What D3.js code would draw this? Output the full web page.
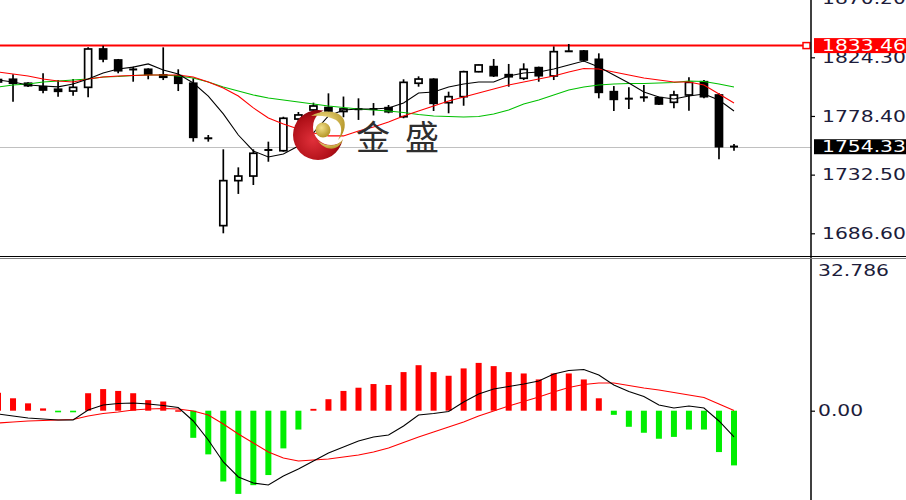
<!DOCTYPE html>
<html><head><meta charset="utf-8">
<script src="https://cdn.jsdelivr.net/npm/d3@7/dist/d3.min.js"></script>
<style>html,body{margin:0;padding:0;background:#fff;overflow:hidden}svg{display:block}</style>
</head><body><div id="chart"></div>
<script>
// ---- data ----
const openP  = [1805.0,1807.1,1804.0,1801.3,1799.3,1797.9,1800.8,1830.8,1822.2,1815.2,1814.9,1810.5,1809.9,1804.0,1761.2,1692.6,1727.8,1731.4,1751.4,1751.2,1776.0,1783.1,1785.0,1781.9,1783.5,1783.6,1784.9,1777.8,1804.0,1807.1,1788.8,1793.5,1813.0,1817.0,1810.7,1807.9,1816.2,1809.7,1828.8,1829.2,1822.7,1797.4,1792.2,1793.2,1792.7,1789.1,1794.8,1805.2,1794.8,1754.6];
const highP  = [1808.9,1811.0,1804.7,1811.8,1806.5,1807.3,1832.1,1833.4,1823.0,1817.0,1815.7,1832.1,1814.9,1807.9,1763.5,1752.3,1738.2,1752.3,1758.3,1777.8,1781.5,1788.8,1796.1,1793.6,1792.2,1788.5,1787.0,1807.1,1809.4,1807.9,1797.4,1813.8,1818.7,1823.0,1819.1,1819.6,1817.0,1832.8,1834.7,1830.0,1827.4,1801.8,1800.8,1802.6,1793.5,1798.2,1808.7,1806.5,1796.1,1756.5];
const lowP   = [1802.6,1789.6,1801.1,1796.1,1793.5,1794.3,1793.0,1820.4,1811.8,1805.2,1807.1,1806.5,1797.9,1758.3,1758.3,1686.6,1717.4,1724.4,1742.6,1750.4,1773.7,1780.7,1780.5,1777.4,1775.3,1778.8,1780.5,1776.6,1801.3,1782.3,1780.5,1786.4,1812.6,1808.9,1801.3,1806.5,1805.2,1806.5,1828.5,1820.9,1792.2,1782.3,1783.9,1789.6,1787.0,1784.4,1782.5,1792.2,1744.5,1751.2];
const closeP = [1806.9,1804.0,1802.1,1798.7,1797.7,1800.8,1830.8,1823.0,1813.8,1814.4,1811.0,1808.7,1804.0,1761.7,1760.7,1727.8,1731.4,1749.2,1752.2,1776.6,1779.2,1786.2,1782.3,1783.9,1783.9,1784.0,1781.7,1804.7,1807.3,1788.3,1793.5,1813.0,1818.3,1809.9,1809.1,1814.9,1809.9,1828.7,1829.2,1822.2,1796.9,1791.4,1791.7,1792.8,1787.8,1794.8,1804.7,1793.5,1754.4,1754.33];
const maFast = [1806.5,1805.0,1802.6,1801.9,1801.2,1803.4,1807.3,1812.0,1815.1,1816.6,1819.1,1814.4,1811.2,1804.2,1794.0,1780.0,1763.5,1751.0,1746.3,1748.7,1754.9,1765.1,1778.4,1783.1,1783.9,1783.9,1784.6,1788.5,1796.4,1797.1,1801.0,1803.4,1805.0,1805.0,1809.7,1812.0,1812.8,1815.1,1818.3,1821.4,1816.7,1810.5,1804.2,1797.2,1793.2,1791.7,1794.0,1795.6,1790.9,1782.3];
const maMid  = [1812.8,1811.2,1809.7,1807.3,1805.8,1805.0,1807.3,1808.9,1809.7,1810.1,1810.5,1810.5,1810.5,1808.9,1805.0,1800.3,1794.0,1784.7,1776.8,1772.1,1768.2,1765.1,1762.8,1762.8,1766.7,1769.8,1773.7,1778.4,1782.3,1786.2,1790.1,1793.3,1796.4,1799.5,1802.6,1805.0,1807.3,1809.7,1812.8,1815.5,1815.2,1812.8,1810.5,1808.1,1806.5,1805.0,1805.0,1802.6,1795.6,1788.6];
const maSlow = [1801.1,1802.6,1803.4,1805.0,1805.8,1806.5,1807.3,1808.9,1809.3,1810.1,1810.5,1810.5,1809.7,1808.1,1805.0,1801.1,1797.9,1794.8,1792.5,1790.9,1789.3,1787.8,1786.2,1785.0,1783.9,1783.1,1782.3,1781.1,1779.6,1778.4,1778.0,1777.6,1778.0,1780.0,1783.1,1787.8,1790.9,1794.8,1798.7,1801.1,1802.6,1803.4,1803.8,1803.8,1804.2,1804.6,1805.8,1805.4,1803.4,1801.1];
const macdHist = [3.9,2.7,1.6,0.5,-0.35,-0.35,3.8,4.7,4.3,3.8,2.3,2.0,0.1,-5.9,-9.5,-15.4,-18.1,-16.2,-14.0,-8.2,-4.1,0.4,2.5,4.3,5.0,5.8,5.6,8.4,9.9,8.4,7.6,9.2,10.4,9.7,8.4,8.1,6.8,8.1,8.1,6.8,2.7,-0.9,-3.5,-4.8,-6.1,-5.7,-4.1,-4.1,-9.0,-11.9];
const macdLine = [-0.72,-1.15,-1.59,-1.81,-2.02,-2.02,0.15,1.24,1.57,1.68,1.46,1.13,0.70,-2.24,-6.37,-11.16,-14.42,-15.73,-16.16,-14.2,-12.68,-10.94,-9.2,-7.9,-6.59,-5.72,-5.29,-3.33,-0.94,-0.61,-0.17,1.89,3.63,4.72,5.26,5.81,6.46,7.98,8.74,8.96,7.77,5.59,4.18,3.09,1.24,0.59,1.02,0.59,-2.24,-5.72];
const signalLine = [-2.68,-2.46,-2.24,-2.13,-2.02,-1.91,-1.15,-0.61,-0.28,0.15,0.37,0.48,0.37,-0.07,-0.94,-2.89,-5.07,-7.03,-8.98,-10.29,-10.94,-10.72,-10.51,-10.07,-9.64,-8.98,-8.11,-6.92,-5.72,-4.63,-3.55,-2.46,-1.15,-0.07,1.02,2.0,2.98,4.07,5.05,5.7,6.03,6.03,5.48,4.94,4.5,3.96,3.42,2.89,1.46,0.04];
const priceTicks = [1870.20,1824.30,1778.40,1732.50,1686.60];
const macdTicks = [32.786,0];
const levelPrice = 1833.46;
const lastPrice = 1754.33;
const brandText = "金盛";

// ---- layout ----
const W = 906, H = 500, plotR = 811;
const mainTop = 0, mainBot = 256, subTop = 259, subBot = 500;
const svg = d3.select("#chart").append("svg").attr("width", W).attr("height", H)
  .style("font-family", "'DejaVu Sans', Verdana, sans-serif");
svg.append("rect").attr("width", W).attr("height", H).attr("fill", "#fff");

const idx = d3.range(openP.length);
const x = d3.scaleLinear().domain([0, idx.length - 1]).range([-2, 734]);
const y = d3.scaleLinear().domain([1686.6, 1824.3]).range([233.3, 57.3]);
const ym = d3.scaleLinear().domain([0, 32.786]).range([410.7, 260]);

const defs = svg.append("defs");
defs.append("clipPath").attr("id", "clipMain").append("rect").attr("x", 0).attr("y", mainTop).attr("width", plotR).attr("height", mainBot - mainTop);
defs.append("clipPath").attr("id", "clipSub").append("rect").attr("x", 0).attr("y", subTop).attr("width", plotR).attr("height", subBot - subTop);

// ---- main panel ----
const gm = svg.append("g").attr("clip-path", "url(#clipMain)");
gm.append("line").attr("x1", 0).attr("x2", plotR).attr("y1", Math.round(y(lastPrice)) + 0.5).attr("y2", Math.round(y(lastPrice)) + 0.5)
  .attr("stroke", "#c0c0c0").attr("stroke-width", 1);
gm.append("line").attr("x1", 0).attr("x2", 804).attr("y1", y(levelPrice)).attr("y2", y(levelPrice))
  .attr("stroke", "#ff0000").attr("stroke-width", 2);
gm.append("rect").attr("x", 803).attr("y", y(levelPrice) - 3).attr("width", 7).attr("height", 6)
  .attr("fill", "#fff").attr("stroke", "#ff0000").attr("stroke-width", 1.5);

const candles = gm.append("g");
idx.forEach(i => {
  const cx = x(i), o = openP[i], c = closeP[i];
  candles.append("line").attr("x1", cx).attr("x2", cx).attr("y1", y(highP[i])).attr("y2", y(lowP[i]))
    .attr("stroke", "#000").attr("stroke-width", 1.7);
  const top = y(Math.max(o, c)), bot = y(Math.min(o, c));
  if (bot - top < 1.6) {
    candles.append("line").attr("x1", cx - 4).attr("x2", cx + 4).attr("y1", (top + bot) / 2).attr("y2", (top + bot) / 2)
      .attr("stroke", "#000").attr("stroke-width", 2);
  } else {
    candles.append("rect").attr("x", cx - 3.5).attr("y", top).attr("width", 7).attr("height", bot - top)
      .attr("fill", c >= o ? "#fff" : "#000").attr("stroke", "#000").attr("stroke-width", 1.7);
  }
});

const line = arr => d3.line().x((d, i) => x(i)).y(d => y(d))(arr);
gm.append("path").attr("d", line(maSlow)).attr("fill", "none").attr("stroke", "#00c000").attr("stroke-width", 1.1);
gm.append("path").attr("d", line(maMid)).attr("fill", "none").attr("stroke", "#ff0000").attr("stroke-width", 1.1);
gm.append("path").attr("d", line(maFast)).attr("fill", "none").attr("stroke", "#000").attr("stroke-width", 1.1);

// ---- logo ----
const rg = defs.append("radialGradient").attr("id", "redG").attr("cx", "40%").attr("cy", "60%").attr("r", "65%");
rg.append("stop").attr("offset", "0%").attr("stop-color", "#e0303a");
rg.append("stop").attr("offset", "70%").attr("stop-color", "#b01018");
rg.append("stop").attr("offset", "100%").attr("stop-color", "#7a0008");
const gg = defs.append("radialGradient").attr("id", "goldG").attr("cx", "40%").attr("cy", "35%").attr("r", "70%");
gg.append("stop").attr("offset", "0%").attr("stop-color", "#f2e08a");
gg.append("stop").attr("offset", "100%").attr("stop-color", "#b09020");
const mask = defs.append("mask").attr("id", "moonMask");
mask.append("rect").attr("x", 280).attr("y", 90).attr("width", 90).attr("height", 90).attr("fill", "#fff");
mask.append("circle").attr("cx", 331).attr("cy", 127).attr("r", 18).attr("fill", "#000");
const logo = svg.append("g");
logo.append("circle").attr("cx", 318).attr("cy", 135).attr("r", 25).attr("fill", "url(#redG)").attr("mask", "url(#moonMask)");
logo.append("path").attr("d", "M311,116 C322,109 340,110 344,120 C346,126 344,134 338,140 C343,132 342,124 336,120 C329,116 320,115 311,116 Z")
  .attr("fill", "url(#goldG)");
logo.append("path").attr("d", "M318,141 C326,147 338,147 343,139 C340,150 327,153 318,141 Z").attr("fill", "url(#goldG)");
logo.append("circle").attr("cx", 323).attr("cy", 130).attr("r", 7.5).attr("fill", "url(#goldG)");
svg.append("text").attr("x", 356).attr("y", 150).attr("font-family", "'Noto Sans CJK SC', sans-serif")
  .attr("font-size", 34).attr("letter-spacing", 15).attr("fill", "#2e2e2e").text(brandText);

// ---- MACD panel ----
const gs = svg.append("g").attr("clip-path", "url(#clipSub)");
gs.selectAll("rect.h").data(macdHist).join("rect").attr("class", "h")
  .attr("x", (d, i) => x(i) - 3).attr("width", 6)
  .attr("y", d => d >= 0 ? ym(d) : ym(0)).attr("height", d => Math.max(1.5, Math.abs(ym(d) - ym(0))))
  .attr("fill", d => d >= 0 ? "#ff0000" : "#00ee00");
const lineM = arr => d3.line().x((d, i) => x(i)).y(d => ym(d))(arr);
gs.append("path").attr("d", lineM(signalLine)).attr("fill", "none").attr("stroke", "#ff0000").attr("stroke-width", 1.1);
gs.append("path").attr("d", lineM(macdLine)).attr("fill", "none").attr("stroke", "#000").attr("stroke-width", 1.1);

// ---- frame ----
svg.append("line").attr("x1", plotR).attr("x2", plotR).attr("y1", 0).attr("y2", H).attr("stroke", "#000").attr("stroke-width", 1.5);
svg.append("line").attr("x1", 0).attr("x2", W).attr("y1", mainBot + 0.5).attr("y2", mainBot + 0.5).attr("stroke", "#000").attr("stroke-width", 1);
svg.append("line").attr("x1", 0).attr("x2", W).attr("y1", subTop - 0.5).attr("y2", subTop - 0.5).attr("stroke", "#808080").attr("stroke-width", 1);

// ---- axes ----
const SX = 1.27, textCol = "#1c1c3a";
function styleAxis(g) {
  g.select(".domain").remove();
  g.selectAll(".tick line").attr("stroke", "#000").attr("stroke-width", 1.2);
  g.selectAll(".tick text").attr("x", 11 / SX).attr("transform", `scale(${SX},1)`)
    .attr("fill", textCol).attr("font-size", 16).attr("font-family", "'DejaVu Sans', Verdana, sans-serif");
}
const ax = svg.append("g").attr("transform", `translate(${plotR},0)`)
  .call(d3.axisRight(y).tickValues(priceTicks).tickSize(4).tickFormat(d3.format(".2f")));
styleAxis(ax);
const axm = svg.append("g").attr("transform", `translate(${plotR},0)`)
  .call(d3.axisRight(ym).tickValues(macdTicks).tickSize(4).tickFormat(d => d === 0 ? "0.00" : d3.format(".3f")(d)));
styleAxis(axm);
axm.selectAll(".tick text").attr("x", 7 / SX);
axm.selectAll(".tick").filter(d => d !== 0).select("line").remove();
axm.selectAll(".tick").filter(d => d !== 0).select("text").attr("dy", "0.95em");

// price tags
function tag(val, bg) {
  const yy = y(val);
  svg.append("rect").attr("x", 814).attr("y", yy - 7.5).attr("width", 92).attr("height", 15).attr("fill", bg);
  svg.append("text").attr("x", 822 / SX).attr("y", yy).attr("dy", "0.36em").attr("transform", `scale(${SX},1)`)
    .attr("fill", "#fff").attr("font-size", 16).text(d3.format(".2f")(val));
}
tag(levelPrice, "#ff0000");
tag(lastPrice, "#000");
</script></body></html>
